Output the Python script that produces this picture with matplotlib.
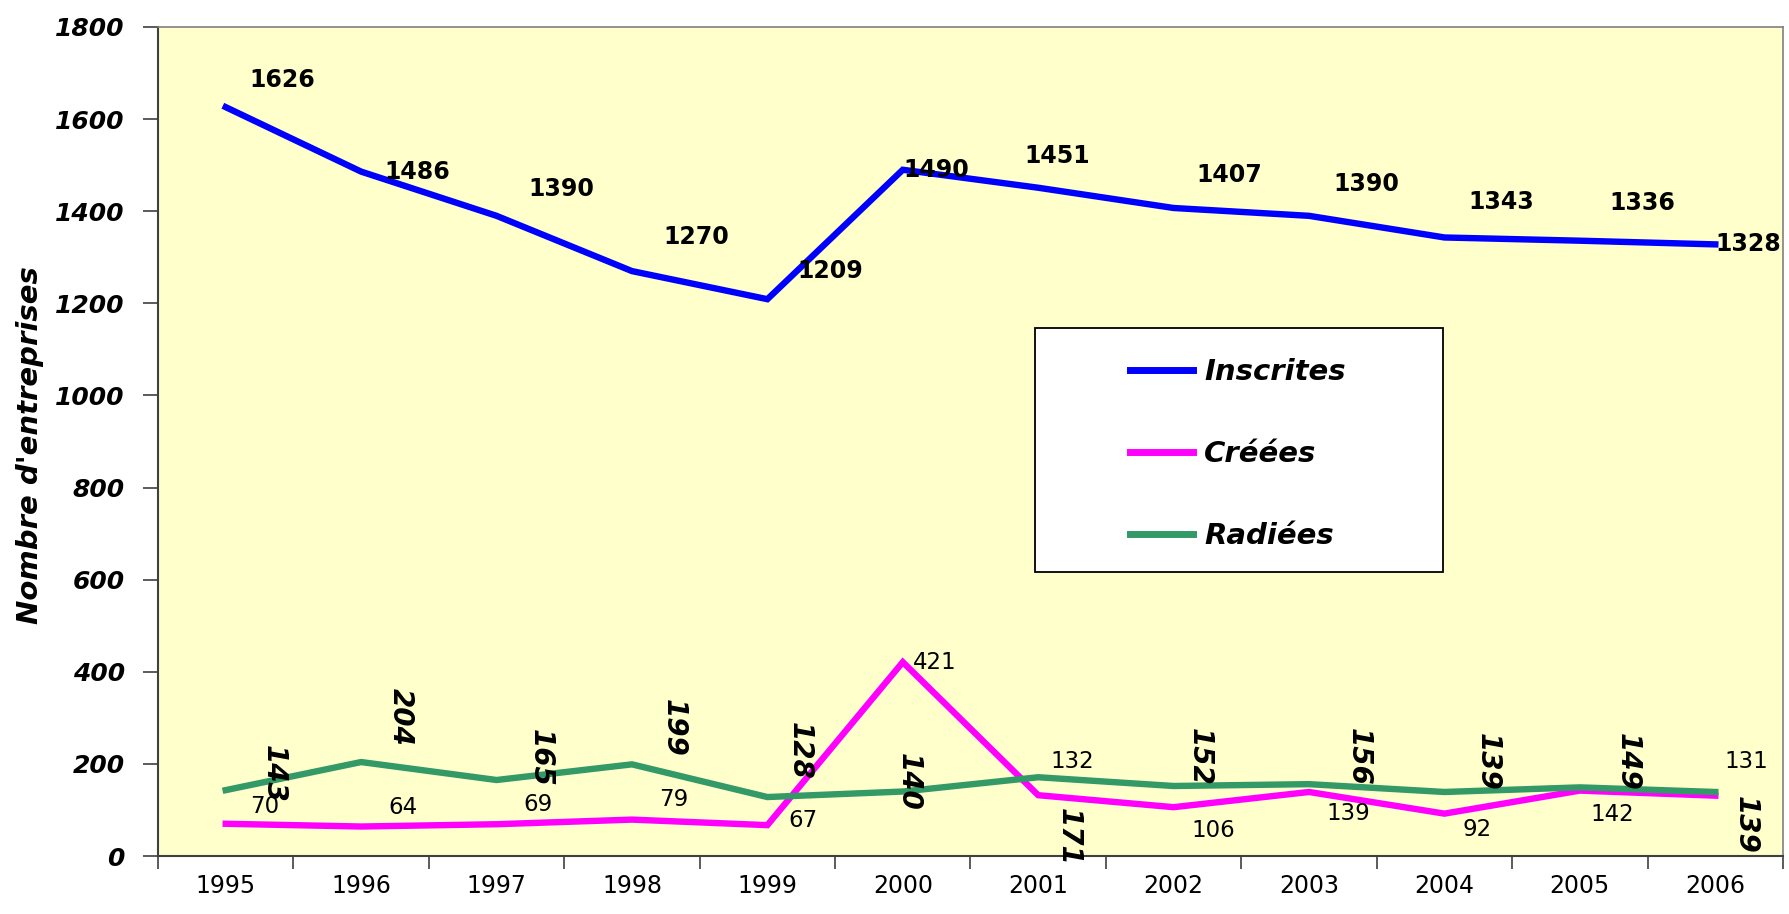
import matplotlib
matplotlib.use("Agg")
import matplotlib.pyplot as plt
from matplotlib.patches import Rectangle
from matplotlib.ticker import FixedLocator

years = ["1995", "1996", "1997", "1998", "1999", "2000", "2001", "2002", "2003", "2004", "2005", "2006"]
inscrites = [1626, 1486, 1390, 1270, 1209, 1490, 1451, 1407, 1390, 1343, 1336, 1328]
creees = [70, 64, 69, 79, 67, 421, 132, 106, 139, 92, 142, 131]
radiees = [143, 204, 165, 199, 128, 140, 171, 152, 156, 139, 149, 139]
yticks = [0, 200, 400, 600, 800, 1000, 1200, 1400, 1600, 1800]

# label offsets in pixels (dx right, dy down on screen)
ins_off = [(57, -27), (56, 0), (65, -27), (64, -34), (63, -28), (33, 0),
           (19, -32), (56, -33), (57, -32), (57, -35), (62, -38), (33, 0)]
cre_off = [(39, -17), (42, -19), (41, -20), (42, -20), (36, -5), (32, 0),
           (34, -34), (40, 23), (39, 22), (33, 16), (32, 24), (31, -34)]
rad_off = [(48, -16), (40, -45), (44, -22), (42, -36), (32, -46), (6, -10),
           (31, 60), (26, -29), (50, -27), (43, -30), (48, -26), (31, 33)]

W, H = 1790, 914
AX_L, AX_R, AX_T, AX_B = 158, 1783, 27, 856
fig = plt.figure(figsize=(W / 100, H / 100), dpi=100)
fig.patch.set_facecolor("white")
ax = fig.add_axes([AX_L / W, 1 - AX_B / H, (AX_R - AX_L) / W, (AX_B - AX_T) / H])
ax.set_facecolor("#FFFFCC")


def axfrac(px, py):
    return ((px - AX_L) / (AX_R - AX_L), 1 - (py - AX_T) / (AX_B - AX_T))


x = list(range(len(years)))
lw = 4.6
l1, = ax.plot(x, inscrites, color="#0000FF", lw=lw, solid_joinstyle="miter", label="Inscrites", zorder=3)
l2, = ax.plot(x, creees, color="#FF00FF", lw=lw, solid_joinstyle="miter", label="Créées", zorder=3)
l3, = ax.plot(x, radiees, color="#339966", lw=lw, solid_joinstyle="miter", label="Radiées", zorder=3)

ax.set_xlim(-0.5, len(years) - 0.5)
ax.set_ylim(0, 1800)

for xi, v, (dx, dy) in zip(x, inscrites, ins_off):
    ax.annotate(str(v), (xi, v), xytext=(dx, -dy), textcoords="offset pixels",
                ha="center", va="center", fontsize=17, fontweight="bold", color="black", zorder=5)
for xi, v, (dx, dy) in zip(x, creees, cre_off):
    ax.annotate(str(v), (xi, v), xytext=(dx, -dy), textcoords="offset pixels",
                ha="center", va="center", fontsize=16.5, color="black", zorder=5)
for xi, v, (dx, dy) in zip(x, radiees, rad_off):
    ax.annotate(str(v), (xi, v), xytext=(dx, -dy), textcoords="offset pixels",
                ha="center", va="center", fontsize=20, fontweight="bold",
                fontstyle="italic", rotation=-90, color="black", zorder=5,
                annotation_clip=False)

# ticks
ax.set_yticks(yticks)
ax.set_yticklabels([str(v) for v in yticks], fontsize=18,
                   fontweight="bold", fontstyle="italic")
ax.tick_params(axis="y", which="major", length=11, width=1.2, color="#404040", pad=13)
ax.set_xticks(x)
ax.set_xticklabels(years, fontsize=17)
ax.tick_params(axis="x", which="major", length=0, pad=13)
ax.xaxis.set_minor_locator(FixedLocator([i + 0.5 for i in range(-1, len(years))]))
ax.tick_params(axis="x", which="minor", length=9, width=1.2, color="#404040")

for side in ["left", "bottom"]:
    ax.spines[side].set_color("#404040")
    ax.spines[side].set_linewidth(1.5)
for side in ["top", "right"]:
    ax.spines[side].set_color("#808080")
    ax.spines[side].set_linewidth(1.2)

fig.text(30 / W, 1 - 445 / H, "Nombre d'entreprises", rotation=90, ha="center", va="center",
         fontsize=21, fontweight="bold", fontstyle="italic")

# legend frame
x0, y0 = axfrac(1035, 572)
x1, y1 = axfrac(1443, 328)
ax.add_patch(Rectangle((x0, y0), x1 - x0, y1 - y0, transform=ax.transAxes,
                       facecolor="white", edgecolor="black", lw=1.3, zorder=6))
leg = ax.legend(handles=[l1, l2, l3], loc="upper left",
                bbox_to_anchor=axfrac(1130, 358),
                frameon=False, handlelength=2.15, handletextpad=0.4,
                labelspacing=1.86, borderpad=0, borderaxespad=0,
                prop={"size": 21, "weight": "bold", "style": "italic"})
leg.set_zorder(7)
for h in leg.legend_handles:
    h.set_linewidth(5)

fig.savefig("out.png", dpi=100)
